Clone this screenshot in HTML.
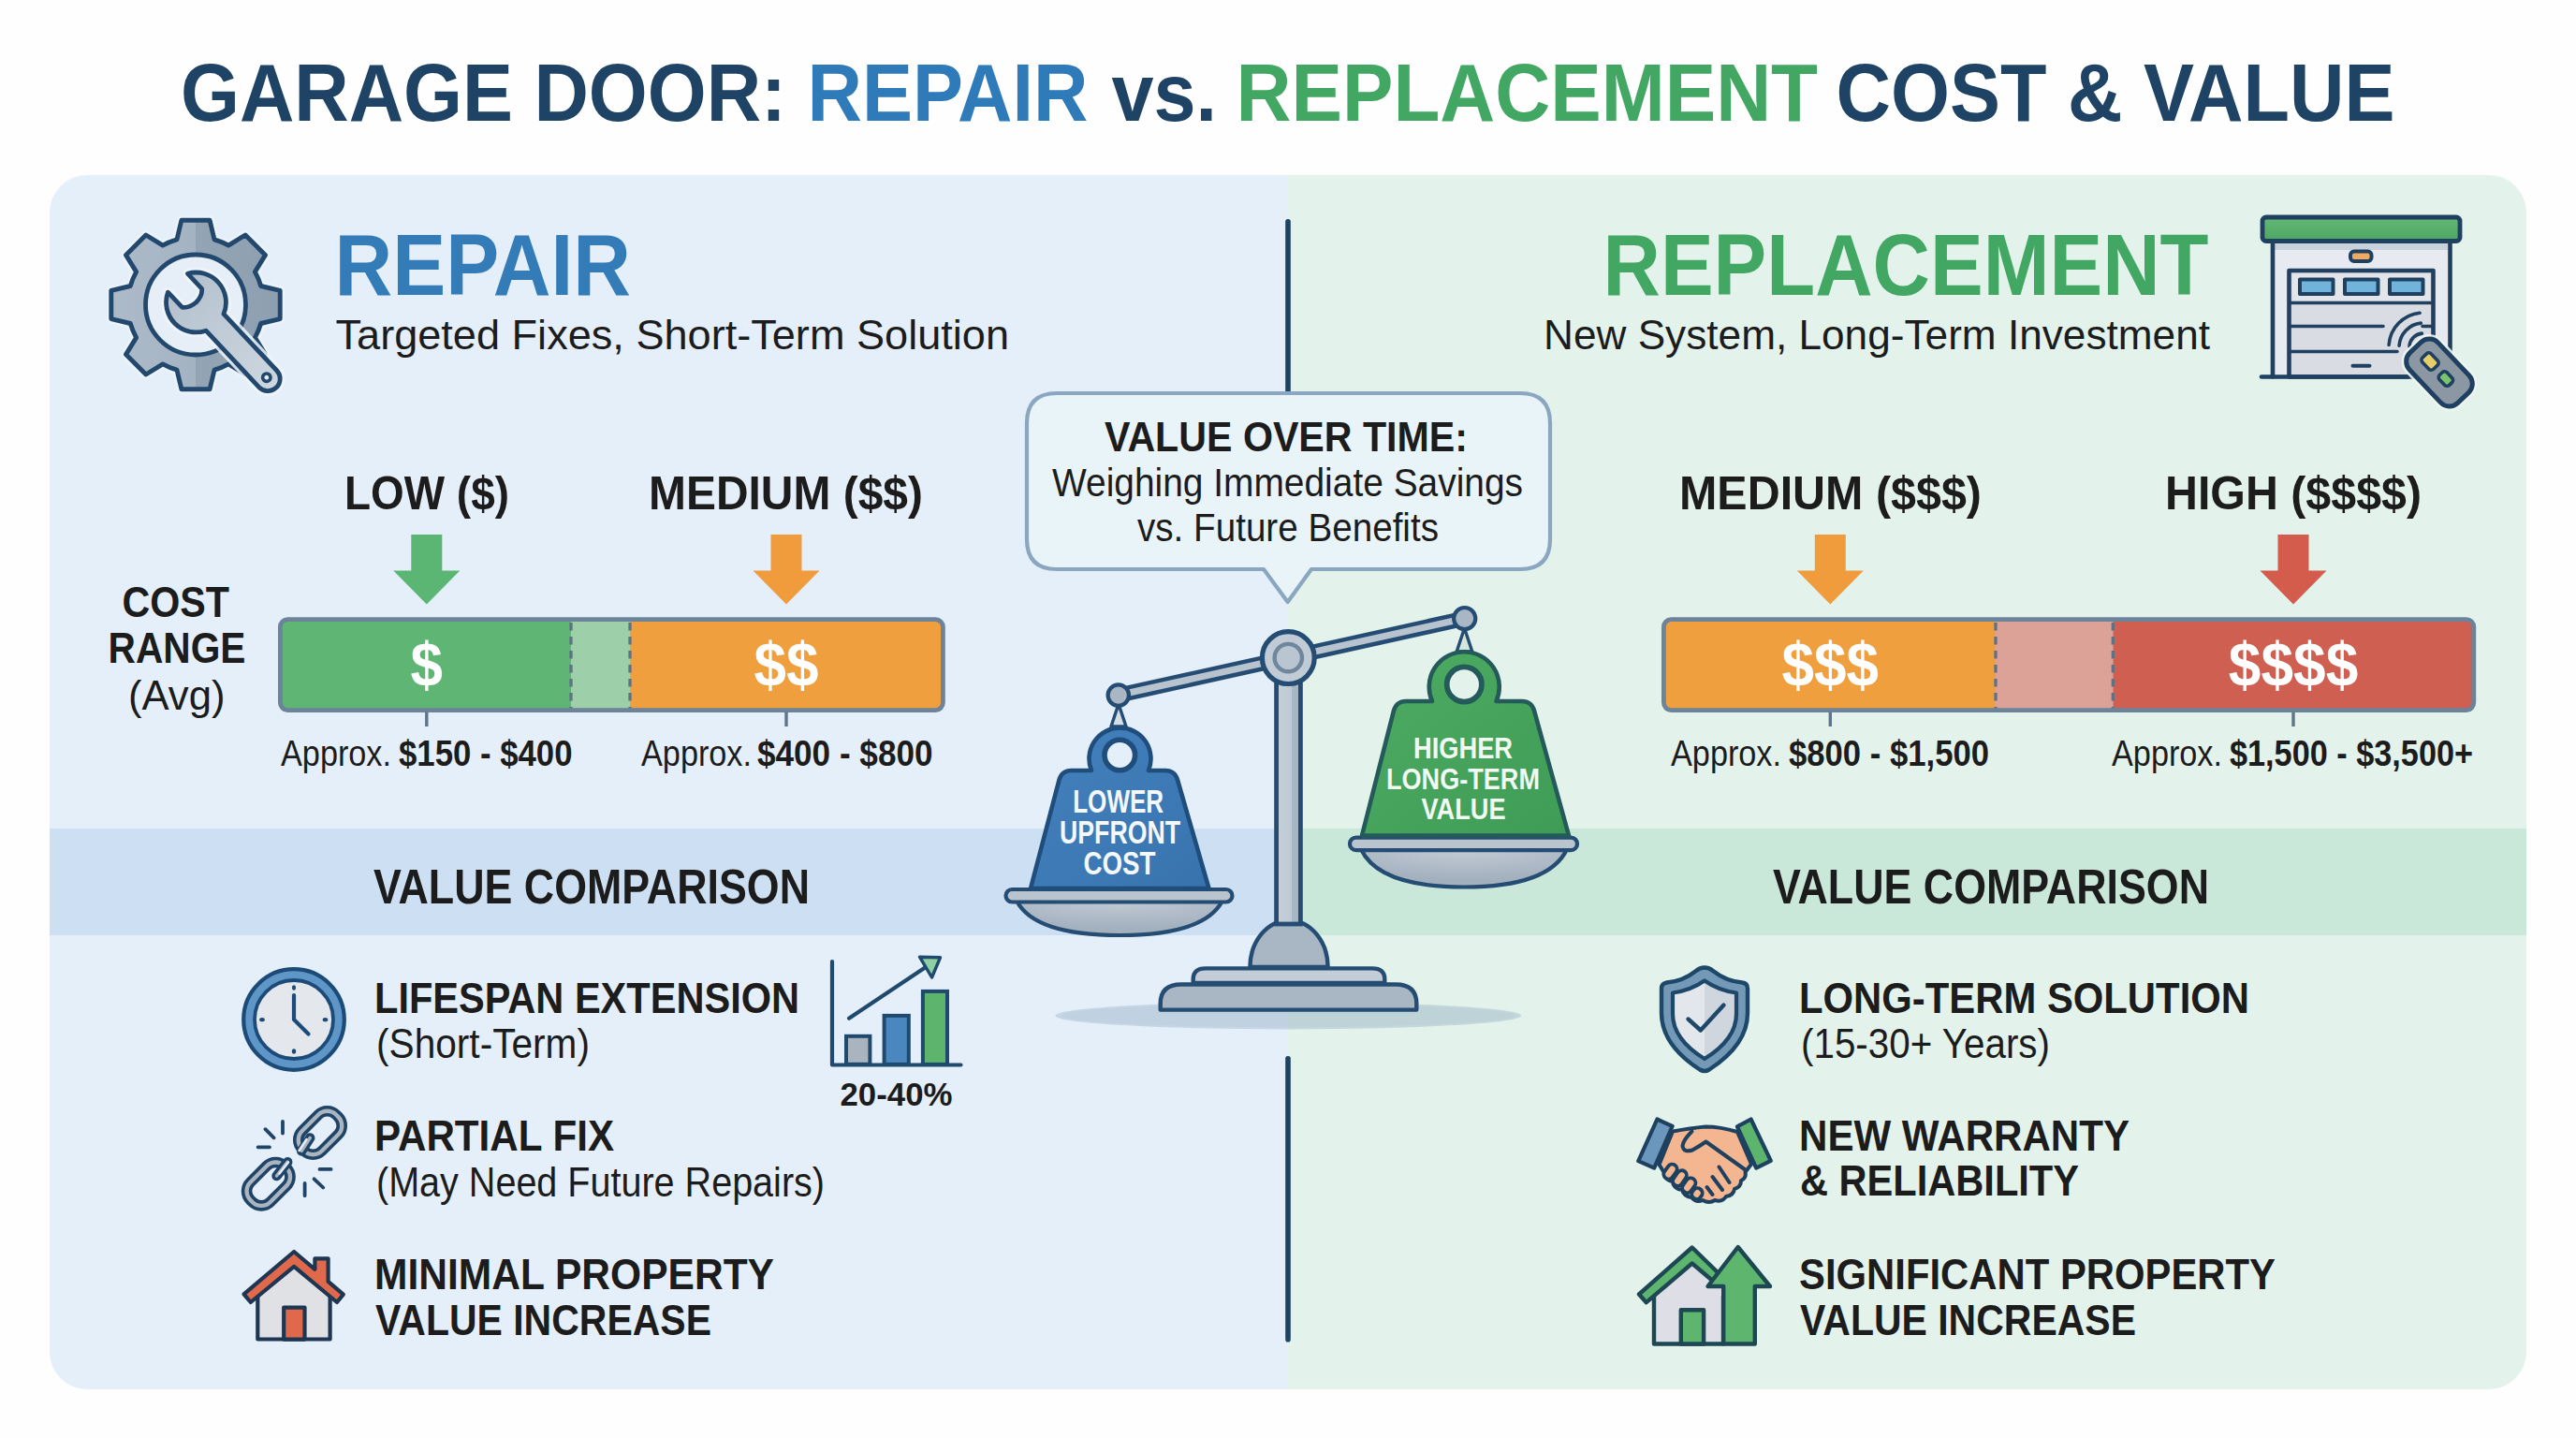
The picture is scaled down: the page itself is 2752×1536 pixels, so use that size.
<!DOCTYPE html>
<html lang="en">
<head>
<meta charset="utf-8">
<title>Garage Door: Repair vs. Replacement Cost &amp; Value</title>
<style>
html,body{margin:0;padding:0;background:#fefefe;}
body{width:2752px;height:1536px;overflow:hidden;font-family:"Liberation Sans",sans-serif;}
svg{display:block;}
svg text{font-family:"Liberation Sans",sans-serif;}
</style>
</head>
<body>
<svg width="2752" height="1536" viewBox="0 0 2752 1536">
<defs>
<clipPath id="panel"><rect x="53" y="187" width="2646" height="1297" rx="40" ry="40"/></clipPath>
<linearGradient id="gearG" x1="0" x2="1" y1="0" y2="0"><stop offset="0" stop-color="#adbbc9"/><stop offset="0.5" stop-color="#a4b3c2"/><stop offset="0.5" stop-color="#93a4b5"/><stop offset="1" stop-color="#8e9fb1"/></linearGradient>
<linearGradient id="wrG" x1="0" x2="1" y1="0" y2="0"><stop offset="0" stop-color="#b4c1ce"/><stop offset="1" stop-color="#cdd7e0"/></linearGradient>
<linearGradient id="postG" x1="0" x2="1" y1="0" y2="0"><stop offset="0" stop-color="#c6d0d9"/><stop offset="0.62" stop-color="#c0cad4"/><stop offset="0.62" stop-color="#aab7c4"/><stop offset="1" stop-color="#a6b3c0"/></linearGradient>
<linearGradient id="metalG" x1="0" x2="0" y1="0" y2="1"><stop offset="0" stop-color="#bcc7d2"/><stop offset="1" stop-color="#a3b0bd"/></linearGradient>
<radialGradient id="bowlG" cx="0.5" cy="0" r="0.8"><stop offset="0" stop-color="#c3ccd6"/><stop offset="1" stop-color="#a3b0be"/></radialGradient>
<linearGradient id="blueW" x1="0" x2="1" y1="0" y2="1"><stop offset="0" stop-color="#4482bd"/><stop offset="1" stop-color="#3873ae"/></linearGradient>
<linearGradient id="greenW" x1="0" x2="1" y1="0" y2="1"><stop offset="0" stop-color="#4dab63"/><stop offset="1" stop-color="#3f9c56"/></linearGradient>
<linearGradient id="roofG" x1="0" x2="0" y1="0" y2="1"><stop offset="0" stop-color="#62b873"/><stop offset="1" stop-color="#4ea664"/></linearGradient>
<linearGradient id="shieldG" x1="0" x2="1" y1="0" y2="0"><stop offset="0.5" stop-color="#e3e7ec"/><stop offset="0.5" stop-color="#cfd6de"/></linearGradient>
<radialGradient id="shadowG" cx="0.5" cy="0.5" r="0.5"><stop offset="0" stop-color="#97adc2" stop-opacity="0.85"/><stop offset="0.75" stop-color="#a3b7ca" stop-opacity="0.65"/><stop offset="1" stop-color="#b5c6d6" stop-opacity="0"/></radialGradient>
<linearGradient id="bandL" x1="0" x2="0" y1="0" y2="1"><stop offset="0" stop-color="#cde0f3"/><stop offset="1" stop-color="#cde0f3"/></linearGradient>
<linearGradient id="bandR" x1="0" x2="0" y1="0" y2="1"><stop offset="0" stop-color="#c9e8da"/><stop offset="1" stop-color="#c9e8da"/></linearGradient>
<clipPath id="bar1"><rect x="298" y="660.5" width="710.5" height="99.5" rx="8"/></clipPath>
<clipPath id="bar2"><rect x="1776" y="660.5" width="868" height="99.5" rx="8"/></clipPath>
</defs>
<rect x="0" y="0" width="2752" height="1536" fill="#fefefe"/>
<g clip-path="url(#panel)">
<rect x="53" y="187" width="1323" height="1297" fill="#e5effa"/>
<rect x="1376" y="187" width="1323" height="1297" fill="#e3f3ec"/>
<rect x="53" y="885" width="1323" height="114" fill="url(#bandL)"/>
<rect x="1376" y="885" width="1323" height="114" fill="url(#bandR)"/>
</g>
<rect x="1373.2" y="234" width="5.6" height="186" rx="2.8" fill="#1d4363"/>
<rect x="1373.2" y="1128" width="5.6" height="305.6" rx="2.8" fill="#1d4363"/>
<text x="193.0" y="129.3" font-size="86.2" font-weight="700" fill="#1f4365" textLength="647.0" lengthAdjust="spacingAndGlyphs" >GARAGE DOOR:</text>
<text x="862.5" y="129.3" font-size="86.2" font-weight="700" fill="#2f7ab8" textLength="300.0" lengthAdjust="spacingAndGlyphs" >REPAIR</text>
<text x="1187.5" y="129.3" font-size="86.2" font-weight="700" fill="#1f4365" textLength="112.5" lengthAdjust="spacingAndGlyphs" >vs.</text>
<text x="1320.5" y="129.3" font-size="86.2" font-weight="700" fill="#42a763" textLength="621.5" lengthAdjust="spacingAndGlyphs" >REPLACEMENT</text>
<text x="1961.5" y="129.3" font-size="86.2" font-weight="700" fill="#1f4365" textLength="597.0" lengthAdjust="spacingAndGlyphs" >COST &amp; VALUE</text>
<text x="357.5" y="315.0" font-size="91.9" font-weight="700" fill="#337cb8" textLength="316.5" lengthAdjust="spacingAndGlyphs" >REPAIR</text>
<text x="358.5" y="372.5" font-size="45.1" font-weight="400" fill="#1c1c1c" textLength="719.5" lengthAdjust="spacingAndGlyphs" >Targeted Fixes, Short-Term Solution</text>
<text x="1712.5" y="315.0" font-size="91.9" font-weight="700" fill="#42a763" textLength="647.0" lengthAdjust="spacingAndGlyphs" >REPLACEMENT</text>
<text x="1649.0" y="372.5" font-size="45.1" font-weight="400" fill="#1c1c1c" textLength="712.0" lengthAdjust="spacingAndGlyphs" >New System, Long-Term Investment</text>
<path d="M189.0,255.8L193.9,235.3L224.1,235.3L229.0,255.8A72.5,72.5 0 0 1 244.1,262.1L262.1,251.0L283.5,272.4L272.4,290.4A72.5,72.5 0 0 1 278.7,305.5L299.2,310.4L299.2,340.6L278.7,345.5A72.5,72.5 0 0 1 272.4,360.6L283.5,378.6L262.1,400.0L244.1,388.9A72.5,72.5 0 0 1 229.0,395.2L224.1,415.7L193.9,415.7L189.0,395.2A72.5,72.5 0 0 1 173.9,388.9L155.9,400.0L134.5,378.6L145.6,360.6A72.5,72.5 0 0 1 139.3,345.5L118.8,340.6L118.8,310.4L139.3,305.5A72.5,72.5 0 0 1 145.6,290.4L134.5,272.4L155.9,251.0L173.9,262.1A72.5,72.5 0 0 1 189.0,255.8Z" fill="none" stroke="#eef4fa" stroke-width="10" stroke-linejoin="round" opacity="0.8"/>
<path d="M189.0,255.8L193.9,235.3L224.1,235.3L229.0,255.8A72.5,72.5 0 0 1 244.1,262.1L262.1,251.0L283.5,272.4L272.4,290.4A72.5,72.5 0 0 1 278.7,305.5L299.2,310.4L299.2,340.6L278.7,345.5A72.5,72.5 0 0 1 272.4,360.6L283.5,378.6L262.1,400.0L244.1,388.9A72.5,72.5 0 0 1 229.0,395.2L224.1,415.7L193.9,415.7L189.0,395.2A72.5,72.5 0 0 1 173.9,388.9L155.9,400.0L134.5,378.6L145.6,360.6A72.5,72.5 0 0 1 139.3,345.5L118.8,340.6L118.8,310.4L139.3,305.5A72.5,72.5 0 0 1 145.6,290.4L134.5,272.4L155.9,251.0L173.9,262.1A72.5,72.5 0 0 1 189.0,255.8Z" fill="url(#gearG)" stroke="#22486e" stroke-width="4.9" stroke-linejoin="round"/>
<circle cx="209" cy="325.5" r="53.5" fill="#e6eef7" stroke="#22486e" stroke-width="4.8"/>
<g transform="translate(209.5,323) rotate(46.8)">
<path d="M-28.5,-14.5A32,32 0 0 1 29.2,-13L112,-13A13,13 0 0 1 112,13L29.2,13A32,32 0 0 1 -28.5,14.5L-6.5,14.5Q-0.5,10 0,0Q-0.5,-10 -6.5,-14.5Z" fill="none" stroke="#eef4fa" stroke-width="11" stroke-linejoin="round" opacity="0.85"/>
<path d="M-28.5,-14.5A32,32 0 0 1 29.2,-13L112,-13A13,13 0 0 1 112,13L29.2,13A32,32 0 0 1 -28.5,14.5L-6.5,14.5Q-0.5,10 0,0Q-0.5,-10 -6.5,-14.5Z" fill="url(#wrG)" stroke="#22486e" stroke-width="4.8" stroke-linejoin="round"/>
<circle cx="110" cy="0" r="4.2" fill="#e6eef7" stroke="#22486e" stroke-width="3.6"/>
</g>
<g stroke-linejoin="round" stroke-linecap="round">
<rect x="2428" y="259" width="189.5" height="143.5" fill="#e7eaf0" stroke="none"/>
<rect x="2430" y="259" width="185.5" height="8" fill="#c9d1db"/>
<path d="M2428,259V402.5M2617.5,259V402.5" stroke="#1f4060" stroke-width="4.6" fill="none"/>
<rect x="2445.5" y="289" width="154" height="113.5" fill="#d9dde3" stroke="#1f4060" stroke-width="4.6"/>
<rect x="2449" y="292.5" width="147" height="29" fill="#e2e5ea"/>
<rect x="2457" y="298.5" width="35.5" height="15.5" fill="#70b4db" stroke="#1f4060" stroke-width="4"/>
<rect x="2505" y="298.5" width="35.5" height="15.5" fill="#70b4db" stroke="#1f4060" stroke-width="4"/>
<rect x="2553" y="298.5" width="35.5" height="15.5" fill="#70b4db" stroke="#1f4060" stroke-width="4"/>
<path d="M2447,323.5H2598M2447,348.5H2546M2588,348.5H2598M2447,375.5H2561" stroke="#1f4060" stroke-width="3.6" fill="none"/>
<path d="M2513.5,390.8H2531.5" stroke="#1f4060" stroke-width="4" fill="none"/>
<path d="M2416,402.5H2572" stroke="#1f4060" stroke-width="4.6" fill="none"/>
<rect x="2511" y="268.5" width="22.5" height="10.5" rx="4" fill="#f1aa62" stroke="#1f4060" stroke-width="4"/>
<rect x="2417" y="232" width="211" height="25.5" rx="4" fill="url(#roofG)" stroke="#1f4060" stroke-width="4.8"/>
<g fill="none" stroke="#1f4060" stroke-width="3.6">
<path d="M2574.0,370.0A15,15 0 0 1 2587.4,356.1"/>
<path d="M2563.1,369.2A26,26 0 0 1 2586.3,345.1"/>
<path d="M2552.1,368.4A37,37 0 0 1 2585.1,334.2"/>
</g>
<g transform="translate(2606,398) rotate(46.5)">
<rect x="-37" y="-21" width="74" height="42" rx="13" fill="none" stroke="#eef6f1" stroke-width="10" opacity="0.9"/>
<rect x="-37" y="-21" width="74" height="42" rx="13" fill="#8c97a4" stroke="#1f4060" stroke-width="5"/>
<rect x="-24" y="-7.5" width="17" height="13" rx="3.5" fill="#e6cf68" stroke="#1f4060" stroke-width="3.6"/>
<rect x="2" y="-6" width="15" height="11" rx="3.5" fill="#7cc46b" stroke="#1f4060" stroke-width="3.6"/>
</g>
</g>
<text x="130.5" y="659.2" font-size="45.3" font-weight="700" fill="#1c1c1c" textLength="114.5" lengthAdjust="spacingAndGlyphs" >COST</text>
<text x="115.5" y="708.4" font-size="45.3" font-weight="700" fill="#1c1c1c" textLength="147.0" lengthAdjust="spacingAndGlyphs" >RANGE</text>
<text x="137.0" y="758.0" font-size="45.1" font-weight="400" fill="#1c1c1c" textLength="103.5" lengthAdjust="spacingAndGlyphs" >(Avg)</text>
<text x="368.0" y="544.0" font-size="50.4" font-weight="700" fill="#1c1c1c" textLength="176.0" lengthAdjust="spacingAndGlyphs" >LOW ($)</text>
<text x="693.0" y="544.0" font-size="50.4" font-weight="700" fill="#1c1c1c" textLength="293.0" lengthAdjust="spacingAndGlyphs" >MEDIUM ($$)</text>
<text x="1794.0" y="544.0" font-size="50.4" font-weight="700" fill="#1c1c1c" textLength="323.0" lengthAdjust="spacingAndGlyphs" >MEDIUM ($$$)</text>
<text x="2313.0" y="544.0" font-size="50.4" font-weight="700" fill="#1c1c1c" textLength="274.0" lengthAdjust="spacingAndGlyphs" >HIGH ($$$$)</text>
<path d="M439.3,571H472.3V609.5H491.3L455.8,645.5L420.3,609.5H439.3Z" fill="#5cb673"/>
<path d="M823.5,571H856.5V609.5H875.5L840,645.5L804.5,609.5H823.5Z" fill="#f09c3d"/>
<path d="M1938.8,571H1971.8V609.5H1990.8L1955.3,645.5L1919.8,609.5H1938.8Z" fill="#f09c3d"/>
<path d="M2433.5,571H2466.5V609.5H2485.5L2450,645.5L2414.5,609.5H2433.5Z" fill="#d35c4d"/>
<g clip-path="url(#bar1)">
<rect x="297" y="660" width="313" height="100" fill="#5eb574"/>
<rect x="610" y="660" width="63" height="100" fill="#9dcfa8"/>
<rect x="673" y="660" width="337" height="100" fill="#f09f3f"/>
</g>
<path d="M610,665V757M673,665V757" stroke="#5d7385" stroke-width="3.3" stroke-dasharray="8.5 6.5" fill="none"/>
<rect x="299.4" y="661.6" width="708" height="97" rx="8" fill="none" stroke="#6c8399" stroke-width="4.8"/>
<g clip-path="url(#bar2)">
<rect x="1775" y="660" width="357" height="101" fill="#f09f3f"/>
<rect x="2132" y="660" width="125.3" height="101" fill="#dda297"/>
<rect x="2257.3" y="660" width="390" height="101" fill="#cf5f51"/>
</g>
<path d="M2132,665V757M2257.3,665V757" stroke="#5d7385" stroke-width="3.3" stroke-dasharray="8.5 6.5" fill="none"/>
<rect x="1777.4" y="661.6" width="865.4" height="97" rx="8" fill="none" stroke="#6c8399" stroke-width="4.8"/>
<path d="M455.8,760.5V776M840,760.5V776M1955.3,760.5V776M2450,760.5V776" stroke="#5f7688" stroke-width="3.4" fill="none"/>
<text x="438.6" y="732.7" font-size="66.9" font-weight="700" fill="#ffffff" textLength="34.5" lengthAdjust="spacingAndGlyphs" >$</text>
<text x="805.5" y="732.7" font-size="66.9" font-weight="700" fill="#ffffff" textLength="69.0" lengthAdjust="spacingAndGlyphs" >$$</text>
<text x="1903.5" y="732.7" font-size="66.9" font-weight="700" fill="#ffffff" textLength="103.5" lengthAdjust="spacingAndGlyphs" >$$$</text>
<text x="2380.8" y="732.7" font-size="66.9" font-weight="700" fill="#ffffff" textLength="138.5" lengthAdjust="spacingAndGlyphs" >$$$$</text>
<text x="300.0" y="818.2" font-size="38.1" font-weight="400" fill="#1c1c1c" textLength="118.0" lengthAdjust="spacingAndGlyphs" >Approx.</text>
<text x="426.0" y="818.2" font-size="38.1" font-weight="700" fill="#1c1c1c" textLength="185.5" lengthAdjust="spacingAndGlyphs" >$150 - $400</text>
<text x="685.0" y="818.2" font-size="38.1" font-weight="400" fill="#1c1c1c" textLength="118.0" lengthAdjust="spacingAndGlyphs" >Approx.</text>
<text x="809.0" y="818.2" font-size="38.1" font-weight="700" fill="#1c1c1c" textLength="187.5" lengthAdjust="spacingAndGlyphs" >$400 - $800</text>
<text x="1785.0" y="818.2" font-size="38.1" font-weight="400" fill="#1c1c1c" textLength="118.0" lengthAdjust="spacingAndGlyphs" >Approx.</text>
<text x="1911.0" y="818.2" font-size="38.1" font-weight="700" fill="#1c1c1c" textLength="214.0" lengthAdjust="spacingAndGlyphs" >$800 - $1,500</text>
<text x="2256.0" y="818.2" font-size="38.1" font-weight="400" fill="#1c1c1c" textLength="118.0" lengthAdjust="spacingAndGlyphs" >Approx.</text>
<text x="2382.0" y="818.2" font-size="38.1" font-weight="700" fill="#1c1c1c" textLength="260.0" lengthAdjust="spacingAndGlyphs" >$1,500 - $3,500+</text>
<ellipse cx="1376.3" cy="1084.8" rx="249" ry="14.6" fill="#7f9bb5" fill-opacity="0.30"/>
<ellipse cx="1376.3" cy="1084.8" rx="243" ry="12.4" fill="#7f9bb5" fill-opacity="0.08"/>
<path d="M1239.7,1078.6V1072Q1239.7,1051.5 1262,1051.5H1491Q1513.3,1051.5 1513.3,1072V1078.6Z" fill="#a9b6c3" stroke="#254c72" stroke-width="4.4" stroke-linejoin="round"/>
<path d="M1274.7,1050V1046Q1274.7,1034.4 1288,1034.4H1466Q1479.3,1034.4 1479.3,1046V1050Z" fill="#c3cdd7" stroke="#254c72" stroke-width="4.4" stroke-linejoin="round"/>
<path d="M1335.4,1033A41.6,50 0 0 1 1418.6,1033Z" fill="#a9b6c3" stroke="#254c72" stroke-width="4.4" stroke-linejoin="round"/>
<rect x="1363.6" y="715" width="25.8" height="272" fill="url(#postG)" stroke="#254c72" stroke-width="4.8"/>
<path d="M1194.8,742.6L1564.7,660.6" stroke="#254c72" stroke-width="16.2" stroke-linecap="round" fill="none"/>
<path d="M1194.8,742.6L1564.7,660.6" stroke="#b7c3ce" stroke-width="7.2" stroke-linecap="round" fill="none"/>
<path d="M1195,752L1187,776H1203Z" fill="#d5dde6" stroke="#254c72" stroke-width="3.4" stroke-linejoin="round"/>
<path d="M1564.5,671L1556.2,696H1572.8Z" fill="#d5e6dc" stroke="#254c72" stroke-width="3.4" stroke-linejoin="round"/>
<circle cx="1194.8" cy="742.6" r="11.2" fill="#a9b6c3" stroke="#254c72" stroke-width="4.2"/>
<circle cx="1564.7" cy="660.6" r="11.6" fill="#a9b6c3" stroke="#254c72" stroke-width="4.2"/>
<circle cx="1376.3" cy="702.6" r="27.9" fill="#c1cbd5" stroke="#254c72" stroke-width="5.2"/>
<circle cx="1376.3" cy="702.6" r="14.7" fill="#b9c5d0" stroke="#6f869d" stroke-width="4.4"/>
<path d="M1086,962Q1105,999 1196,999Q1287,999 1306,962Z" fill="url(#bowlG)" stroke="#254c72" stroke-width="4.2" stroke-linejoin="round"/>
<rect x="1074.5" y="950" width="242" height="13.5" rx="6.7" fill="#b9c4cf" stroke="#254c72" stroke-width="4.2"/>
<path d="M1454,907Q1473,947.5 1564,947.5Q1655,947.5 1674,907Z" fill="url(#bowlG)" stroke="#254c72" stroke-width="4.2" stroke-linejoin="round"/>
<rect x="1442" y="894.6" width="243" height="13.5" rx="6.7" fill="#b9c4cf" stroke="#254c72" stroke-width="4.2"/>
<path d="M1101,949L1131.5,833Q1134.5,823 1144.5,823H1166A33,33 0 1 1 1227,823H1245Q1255,823 1258,833L1291.5,949Z" fill="url(#blueW)" stroke="#1f4e7c" stroke-width="4.6" stroke-linejoin="round"/>
<circle cx="1196.3" cy="806.5" r="16.3" fill="#e5effa" stroke="#1f4e7c" stroke-width="5.6"/>
<path d="M1455,892.5L1489,759Q1492,749 1502,749H1530A37.5,37.5 0 1 1 1598.5,749H1626Q1636,749 1639,759L1676,892.5Z" fill="url(#greenW)" stroke="#245a5a" stroke-width="4.6" stroke-linejoin="round"/>
<circle cx="1564.3" cy="731" r="18.6" fill="#e3f3ec" stroke="#245a5a" stroke-width="5.8"/>
<text x="1146.2" y="868.3" font-size="34.9" font-weight="700" fill="#f4f8fb" textLength="97.0" lengthAdjust="spacingAndGlyphs" >LOWER</text>
<text x="1132.0" y="900.5" font-size="34.9" font-weight="700" fill="#f4f8fb" textLength="129.0" lengthAdjust="spacingAndGlyphs" >UPFRONT</text>
<text x="1157.5" y="933.6" font-size="35.8" font-weight="700" fill="#f4f8fb" textLength="77.0" lengthAdjust="spacingAndGlyphs" >COST</text>
<text x="1510.0" y="810.3" font-size="31.3" font-weight="700" fill="#f2f9f3" textLength="106.0" lengthAdjust="spacingAndGlyphs" >HIGHER</text>
<text x="1481.0" y="843.0" font-size="31.7" font-weight="700" fill="#f2f9f3" textLength="164.0" lengthAdjust="spacingAndGlyphs" >LONG-TERM</text>
<text x="1518.5" y="874.8" font-size="32.0" font-weight="700" fill="#f2f9f3" textLength="90.0" lengthAdjust="spacingAndGlyphs" >VALUE</text>
<path d="M1129,420H1624Q1656,420 1656,452V576Q1656,608 1624,608H1401L1375.7,643L1350,608H1129Q1097,608 1097,576V452Q1097,420 1129,420Z" fill="#e9f4f9" fill-opacity="0.96" stroke="#8aa6c0" stroke-width="4.2" stroke-linejoin="round"/>
<text x="1180.0" y="481.5" font-size="45.1" font-weight="700" fill="#1c1c1c" textLength="388.0" lengthAdjust="spacingAndGlyphs" >VALUE OVER TIME:</text>
<text x="1124.0" y="529.6" font-size="42.3" font-weight="400" fill="#1c1c1c" textLength="503.0" lengthAdjust="spacingAndGlyphs" >Weighing Immediate Savings</text>
<text x="1215.0" y="578.0" font-size="42.2" font-weight="400" fill="#1c1c1c" textLength="322.0" lengthAdjust="spacingAndGlyphs" >vs. Future Benefits</text>
<text x="399.0" y="965.2" font-size="51.7" font-weight="700" fill="#1c1c1c" textLength="466.0" lengthAdjust="spacingAndGlyphs" >VALUE COMPARISON</text>
<text x="1894.0" y="965.2" font-size="51.7" font-weight="700" fill="#1c1c1c" textLength="466.0" lengthAdjust="spacingAndGlyphs" >VALUE COMPARISON</text>
<text x="400.0" y="1081.6" font-size="45.9" font-weight="700" fill="#1c1c1c" textLength="454.0" lengthAdjust="spacingAndGlyphs" >LIFESPAN EXTENSION</text>
<text x="402.0" y="1129.5" font-size="43.6" font-weight="400" fill="#1c1c1c" textLength="228.0" lengthAdjust="spacingAndGlyphs" >(Short-Term)</text>
<text x="400.0" y="1229.0" font-size="45.8" font-weight="700" fill="#1c1c1c" textLength="256.0" lengthAdjust="spacingAndGlyphs" >PARTIAL FIX</text>
<text x="402.0" y="1277.5" font-size="43.6" font-weight="400" fill="#1c1c1c" textLength="479.0" lengthAdjust="spacingAndGlyphs" >(May Need Future Repairs)</text>
<text x="400.0" y="1377.0" font-size="45.8" font-weight="700" fill="#1c1c1c" textLength="427.0" lengthAdjust="spacingAndGlyphs" >MINIMAL PROPERTY</text>
<text x="401.0" y="1425.5" font-size="45.8" font-weight="700" fill="#1c1c1c" textLength="359.0" lengthAdjust="spacingAndGlyphs" >VALUE INCREASE</text>
<text x="897.5" y="1181.0" font-size="34.9" font-weight="700" fill="#1c1c1c" textLength="120.0" lengthAdjust="spacingAndGlyphs" >20-40%</text>
<circle cx="314" cy="1089" r="53.8" fill="#5f96c8" stroke="#1d4b79" stroke-width="4.2"/>
<circle cx="314" cy="1089" r="42" fill="#e4e8ec" stroke="#1d4b79" stroke-width="3.8"/>
<path d="M314,1063V1089L329.5,1104.5" fill="none" stroke="#1d4b79" stroke-width="4.2" stroke-linecap="round" stroke-linejoin="round"/>
<g fill="#1d4b79"><ellipse cx="314" cy="1055" rx="2" ry="2.8"/><ellipse cx="314" cy="1123" rx="2.2" ry="2.8"/><ellipse cx="280" cy="1089.2" rx="2.8" ry="2.1"/><ellipse cx="347.5" cy="1089.2" rx="2.8" ry="2.1"/></g>
<rect x="904" y="1106.8" width="25.4" height="30" fill="#aab4bf" stroke="#1f4a6e" stroke-width="4"/>
<rect x="944.6" y="1084.9" width="26.2" height="52" fill="#4a87bf" stroke="#1f4a6e" stroke-width="4"/>
<rect x="985.9" y="1058.9" width="26.1" height="78" fill="#5db56d" stroke="#1f4a6e" stroke-width="4"/>
<path d="M889,1027V1137.5H1026.5" fill="none" stroke="#1f4a6e" stroke-width="4.2" stroke-linecap="round" stroke-linejoin="round"/>
<path d="M907,1087.7L992,1031" fill="none" stroke="#1f4a6e" stroke-width="4.2" stroke-linecap="round"/>
<path d="M982.5,1022.2L1004.5,1022.8L995.5,1044Z" fill="#8fd0a1" stroke="#1f4a6e" stroke-width="3.4" stroke-linejoin="round"/>
<g transform="translate(342,1210) rotate(-45)">
<rect x="-25.75" y="-15.0" width="51.5" height="30" rx="13.5" fill="none" stroke="#1f4468" stroke-width="11.6"/>
<rect x="-25.75" y="-15.0" width="51.5" height="30" rx="13.5" fill="none" stroke="#aab5c0" stroke-width="4.4"/>
</g>
<g transform="translate(286.8,1264.7) rotate(-45)">
<rect x="-25.75" y="-15.0" width="51.5" height="30" rx="13.5" fill="none" stroke="#1f4468" stroke-width="11.6"/>
<rect x="-25.75" y="-15.0" width="51.5" height="30" rx="13.5" fill="none" stroke="#aab5c0" stroke-width="4.4"/>
</g>
<path d="M331.2,1215.5L322.2,1229.3" stroke="#1f4468" stroke-width="10.5" stroke-linecap="round"/>
<path d="M331.2,1215.5L322.2,1229.3" stroke="#aab5c0" stroke-width="3.6" stroke-linecap="round"/>
<path d="M307.2,1241.2L295.6,1256" stroke="#1f4468" stroke-width="10.5" stroke-linecap="round"/>
<path d="M307.2,1241.2L295.6,1256" stroke="#aab5c0" stroke-width="3.6" stroke-linecap="round"/>
<path d="M319.6,1229L327.5,1217" stroke="#e3ebf3" stroke-width="2.6" stroke-linecap="round"/>
<path d="M298.5,1253.5L308,1241.5" stroke="#e3ebf3" stroke-width="2.6" stroke-linecap="round"/>
<g stroke="#1f4468" stroke-width="3.8" stroke-linecap="round" fill="none">
<path d="M302,1198V1210.5M283.5,1206.2L292.6,1215.3M275.6,1225.3H288M341.5,1248.9H353.6M335.6,1259.3L345.2,1268.5M325.6,1264V1277.2"/>
</g>
<rect x="275.3" y="1372" width="77.3" height="58.5" fill="#dfe1e5" stroke="#1e3652" stroke-width="4.2" stroke-linejoin="round"/>
<path d="M275,1384L314,1353L353,1384" fill="#dfe1e5" stroke="none"/>
<rect x="303.2" y="1396.6" width="22.3" height="34" fill="#e0684b" stroke="#1e3652" stroke-width="4.2" stroke-linejoin="round"/>
<path d="M314.1,1337L260.5,1382.3L267.8,1391L314.1,1352.8L360,1391L366.8,1382.6L350.6,1368.8V1344.4H336.4V1355.8Z" fill="#e0684b" stroke="#1e3652" stroke-width="4.2" stroke-linejoin="round"/>
<text x="1922.0" y="1081.6" font-size="45.9" font-weight="700" fill="#1c1c1c" textLength="481.0" lengthAdjust="spacingAndGlyphs" >LONG-TERM SOLUTION</text>
<text x="1924.0" y="1129.5" font-size="43.6" font-weight="400" fill="#1c1c1c" textLength="266.0" lengthAdjust="spacingAndGlyphs" >(15-30+ Years)</text>
<text x="1922.0" y="1229.0" font-size="45.8" font-weight="700" fill="#1c1c1c" textLength="353.0" lengthAdjust="spacingAndGlyphs" >NEW WARRANTY</text>
<text x="1923.0" y="1277.0" font-size="45.8" font-weight="700" fill="#1c1c1c" textLength="298.0" lengthAdjust="spacingAndGlyphs" >&amp; RELIABILITY</text>
<text x="1922.0" y="1377.0" font-size="45.8" font-weight="700" fill="#1c1c1c" textLength="509.0" lengthAdjust="spacingAndGlyphs" >SIGNIFICANT PROPERTY</text>
<text x="1923.0" y="1425.5" font-size="45.8" font-weight="700" fill="#1c1c1c" textLength="359.0" lengthAdjust="spacingAndGlyphs" >VALUE INCREASE</text>
<path d="M1821,1033.5Q1826,1033.5 1830,1037Q1844,1048 1861,1049.5Q1867,1050 1867,1056V1082Q1867,1116 1826,1142.5Q1821,1145.5 1816,1142.5Q1775,1116 1775,1082V1056Q1775,1050 1781,1049.5Q1798,1048 1812,1037Q1816,1033.5 1821,1033.5Z" fill="#7399b7" stroke="#1e4869" stroke-width="4.4" stroke-linejoin="round"/>
<path d="M1821,1047.5Q1836,1058 1855,1060.5V1083Q1855,1110 1821,1131Q1787,1110 1787,1083V1060.5Q1806,1058 1821,1047.5Z" fill="url(#shieldG)" stroke="#1e4869" stroke-width="4.2" stroke-linejoin="round"/>
<path d="M1803.5,1088.5L1816.8,1100.5L1841.5,1073.5" fill="none" stroke="#1e4869" stroke-width="4.4" stroke-linecap="round" stroke-linejoin="round"/>
<path d="M1787,1208.5Q1806,1205 1822,1203.5Q1838,1203.5 1856,1209L1871,1243.5L1864.5,1252Q1866,1258 1860,1261Q1860,1268 1853,1270Q1852,1277 1844,1278Q1840,1284.5 1832,1282Q1826,1286 1819,1282Q1812,1285 1807,1279Q1799,1278 1797,1271Q1788,1270 1787,1262Q1778,1260 1777.5,1252L1772.5,1244Z" fill="#f4b690" stroke="#1f4160" stroke-width="4" stroke-linejoin="round"/>
<g fill="#f4b690" stroke="#1f4160" stroke-width="3.8" stroke-linejoin="round" stroke-linecap="round">
<rect x="-8.5" y="-5.2" width="17" height="10.4" rx="5.2" transform="translate(1784.5,1251.5) rotate(-55)"/>
<rect x="-9.0" y="-5.2" width="18" height="10.4" rx="5.2" transform="translate(1794.5,1258.5) rotate(-55)"/>
<rect x="-8.5" y="-5.2" width="17" height="10.4" rx="5.2" transform="translate(1804.3,1266.2) rotate(-55)"/>
<rect x="-6.0" y="-5.2" width="12" height="10.4" rx="5.2" transform="translate(1813,1275) rotate(-55)"/>
</g>
<path d="M1807.5,1208.5Q1798,1218 1797.5,1224Q1798.5,1231.5 1808,1228.5Q1816,1224 1822.5,1219.5L1864.5,1249.5" fill="none" stroke="#1f4160" stroke-width="4" stroke-linecap="round" stroke-linejoin="round"/>
<path d="M1836.5,1246.5L1847.5,1263M1829.5,1257L1840,1271M1823.5,1268L1829.5,1276" fill="none" stroke="#1f4160" stroke-width="4" stroke-linecap="round"/>
<path d="M1770.4,1195.5L1786.6,1203L1767.2,1247.6L1750.3,1240.2Z" fill="#6c97bd" stroke="#1f4160" stroke-width="4.2" stroke-linejoin="round"/>
<path d="M1870.6,1195.5L1891.8,1239.8L1876.2,1247.6L1855.9,1203.4Z" fill="#5db56d" stroke="#1f4160" stroke-width="4.2" stroke-linejoin="round"/>
<rect x="1767" y="1372" width="74" height="63.5" fill="#dedfe6" stroke="#1d4752" stroke-width="4.4" stroke-linejoin="round"/>
<path d="M1767,1384L1807.7,1350L1841,1377V1384Z" fill="#dedfe6"/>
<rect x="1795.8" y="1399.2" width="24.3" height="36.3" fill="#5db56e" stroke="#1d4752" stroke-width="4.4" stroke-linejoin="round"/>
<path d="M1807.7,1332.5L1751,1382.5L1758.8,1391.2L1807.7,1349.5L1832,1370L1838,1362Z" fill="#5db56e" stroke="#1d4752" stroke-width="4.4" stroke-linejoin="round"/>
<path d="M1856.7,1332L1824.5,1374H1841.2V1435.5H1874.8V1374H1891Z" fill="#5db56e" stroke="#1d4752" stroke-width="4.4" stroke-linejoin="round"/>
</svg>
</body>
</html>
